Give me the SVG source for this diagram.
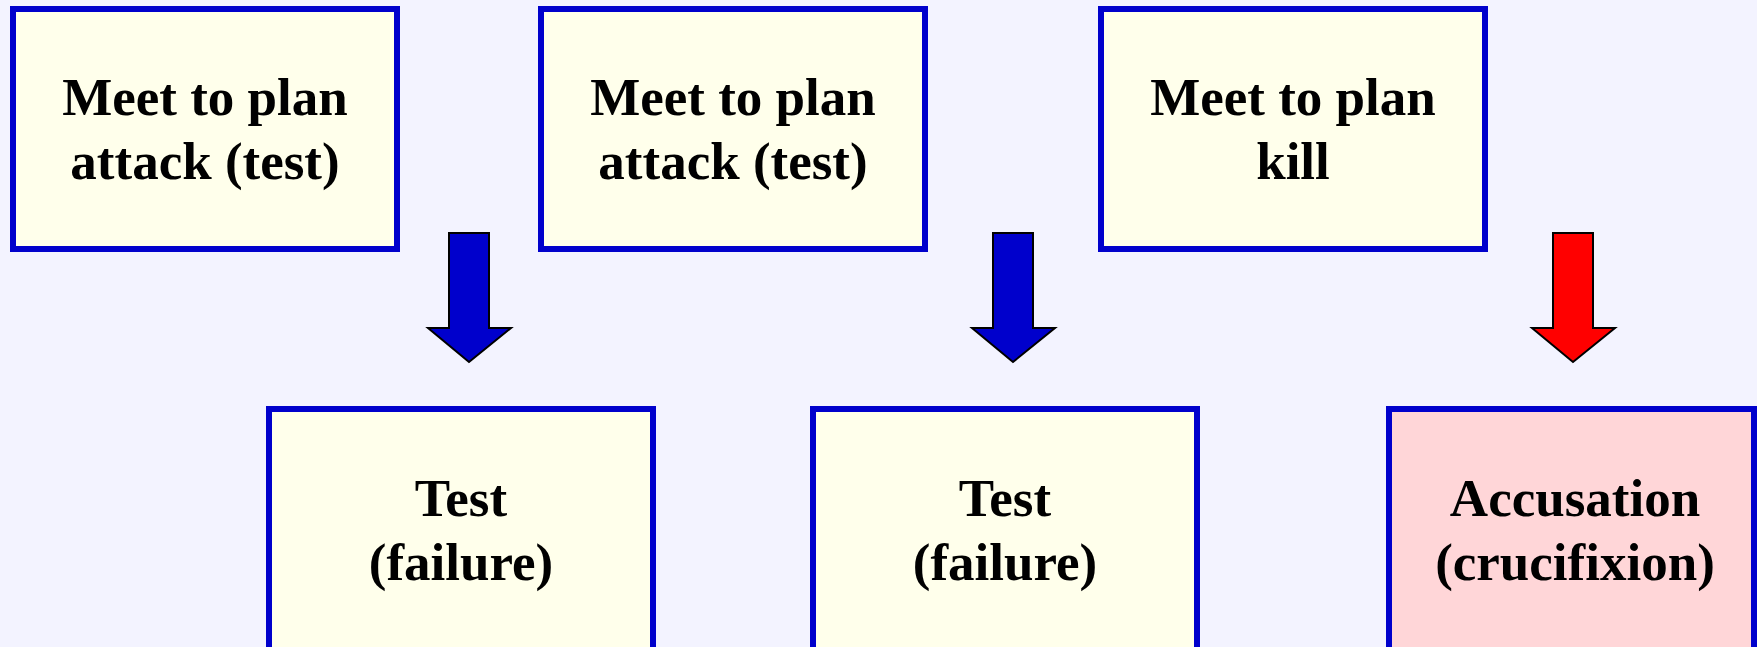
<svg xmlns="http://www.w3.org/2000/svg" width="1757" height="647" viewBox="0 0 1757 647">
<style>
.box{fill:#FFFFEB;stroke:#0000CC;stroke-width:6}
.pink{fill:#FFD6D8}
.t{font-family:"Liberation Serif","Times New Roman",serif;font-weight:bold;font-size:53px;fill:#000;text-anchor:middle}
.arr{stroke:#000;stroke-width:2;stroke-linejoin:miter}
</style>
<rect x="0" y="0" width="1757" height="647" fill="#F3F3FF"/>
<g id="n1"><rect class="box" x="13" y="9" width="384" height="240"/>
<text class="t" x="205" y="115">Meet to plan</text><text class="t" x="205" y="179">attack (test)</text></g>
<g id="n2"><rect class="box" x="541" y="9" width="384" height="240"/>
<text class="t" x="733" y="115">Meet to plan</text><text class="t" x="733" y="179">attack (test)</text></g>
<g id="n3"><rect class="box" x="1101" y="9" width="384" height="240"/>
<text class="t" x="1293" y="115">Meet to plan</text><text class="t" x="1293" y="179">kill</text></g>
<g id="n4"><rect class="box" x="269" y="409" width="384" height="260"/>
<text class="t" x="461" y="516">Test</text><text class="t" x="461" y="580">(failure)</text></g>
<g id="n5"><rect class="box" x="813" y="409" width="384" height="260"/>
<text class="t" x="1005" y="516">Test</text><text class="t" x="1005" y="580">(failure)</text></g>
<g id="n6"><rect class="box pink" x="1389" y="409" width="365" height="260"/>
<text class="t" x="1575" y="516">Accusation</text><text class="t" x="1575" y="580">(crucifixion)</text></g>
<g id="connectors">
<path class="arr" fill="#0000CC" d="M449,233 H489 V328 H511 L469,362 L428,328 H449 Z"/>
<path class="arr" fill="#0000CC" d="M993,233 H1033 V328 H1055 L1013,362 L972,328 H993 Z"/>
<path class="arr" fill="#FF0000" d="M1553,233 H1593 V328 H1615 L1573,362 L1532,328 H1553 Z"/>
</g>
</svg>
